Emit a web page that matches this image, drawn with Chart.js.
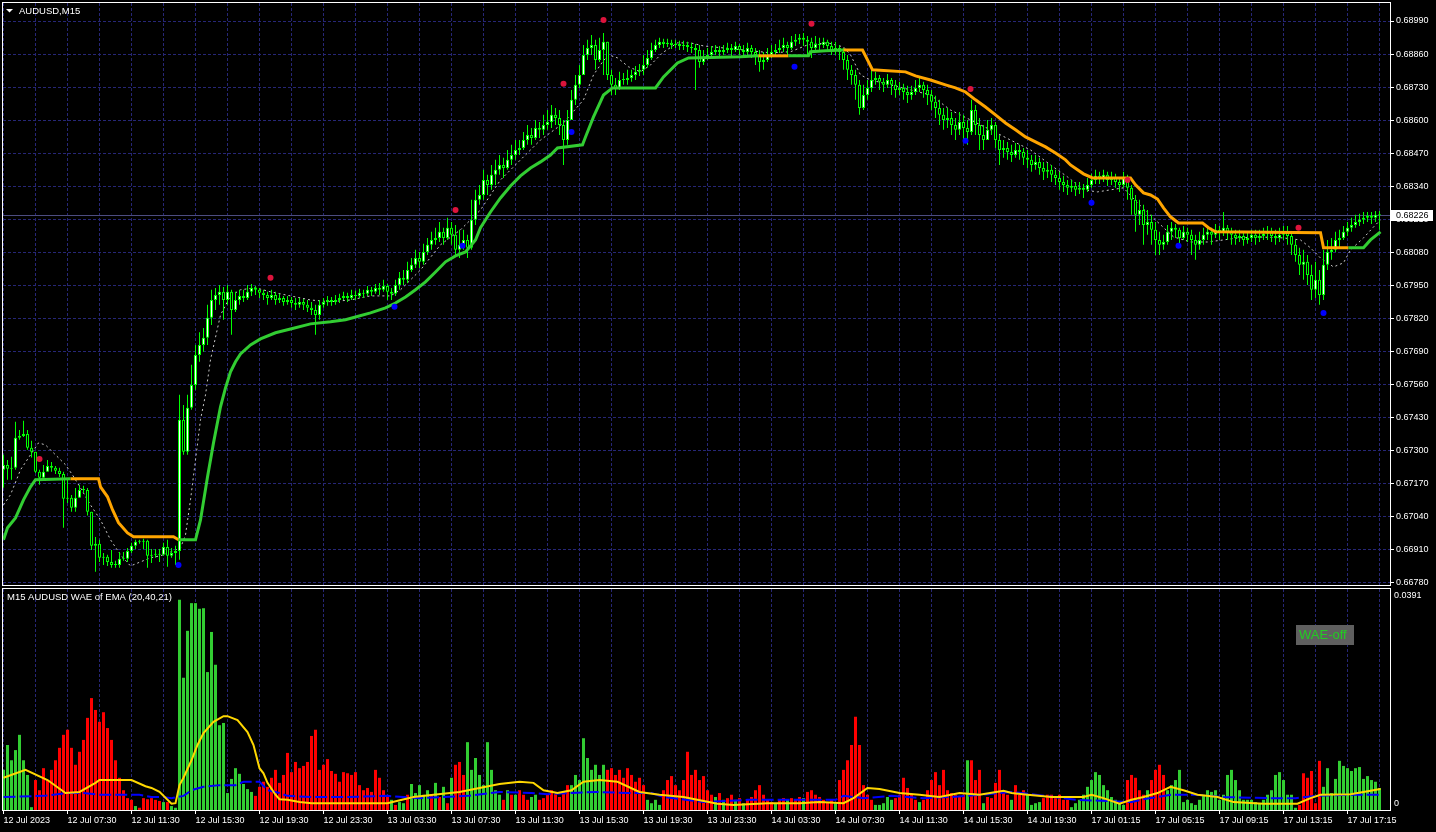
<!DOCTYPE html>
<html lang="en">
<head>
<meta charset="UTF-8">
<title>AUDUSD,M15</title>
<script src="https://cdn.jsdelivr.net/npm/chart.js@4"></script>
<style>
  body { margin: 0; background: #000; overflow: hidden; }
  #top { position: absolute; left: 0; top: 0; }
  #bot { position: absolute; left: 0; top: 588px; }
</style>
</head>
<body>
<canvas id="top" width="1436" height="588"></canvas>
<canvas id="bot" width="1436" height="244"></canvas>
<script>
// ---- price data, in points (1 point = 0.00001) ----
const firstOpen = 67225;
const closes = [
67244,67229,67233,67351,67358,67366,67312,67296,67217,67194,
67217,67240,67233,67221,67209,67111,67115,67076,67115,67146,
67146,67060,66926,66934,66879,66883,66863,66851,66851,66875,
66875,66906,66926,66942,66942,66946,66887,66891,66891,66891,
66922,66887,66898,66906,67422,67296,67469,67559,67677,67716,
67744,67823,67893,67913,67925,67893,67925,67854,67893,67909,
67901,67925,67940,67933,67921,67913,67901,67913,67893,67901,
67885,67893,67881,67874,67885,67874,67862,67854,67834,67874,
67885,67893,67885,67893,67901,67909,67901,67913,67909,67921,
67917,67933,67925,67940,67933,67948,67925,67917,67952,67980,
67972,68011,68031,68058,68043,68082,68110,68129,68137,68161,
68137,68177,68149,68090,68110,68129,68098,68208,68287,68306,
68365,68345,68385,68405,68424,68412,68444,68463,68483,68491,
68522,68542,68530,68569,68562,68581,68593,68621,68609,68581,
68522,68601,68680,68739,68778,68856,68884,68896,68837,68876,
68908,68778,68739,68727,68758,68758,68766,68778,68790,68798,
68817,68845,68876,68896,68908,68900,68904,68896,68900,68892,
68896,68888,68884,68876,68829,68845,68856,68868,68876,68868,
68876,68884,68876,68892,68876,68868,68884,68868,68856,68829,
68837,68856,68868,68876,68884,68896,68884,68908,68916,68924,
68916,68908,68884,68900,68896,68908,68892,68876,68884,68868,
68837,68798,68778,68739,68648,68699,68727,68758,68766,68751,
68739,68758,68739,68719,68727,68711,68699,68711,68727,68739,
68719,68699,68672,68648,68621,68601,68609,68581,68562,68593,
68569,68554,68640,68581,68542,68522,68562,68581,68522,68483,
68491,68475,68463,68483,68475,68452,68444,68424,68436,68412,
68397,68405,68385,68373,68357,68345,68334,68341,68326,68334,
68326,68345,68365,68381,68373,68385,68365,68373,68357,68345,
68373,68334,68287,68228,68247,68188,68200,68169,68129,68110,
68121,68161,68177,68169,68137,68161,68149,68129,68110,68129,
68149,68161,68149,68169,68161,68177,68161,68149,68137,68145,
68129,68137,68149,68137,68145,68153,68161,68145,68137,68149,
68161,68145,68110,68070,68031,68043,67991,67933,67972,67913,
68031,68082,68090,68129,68137,68161,68177,68188,68200,68208,
68216,68224,68216,68228,68226];
const highs = [
67284,67264,67276,67414,67382,67418,67382,67339,67284,67225,
67244,67264,67256,67240,67233,67217,67186,67126,67154,67166,
67162,67154,67060,66961,66950,66898,66891,66910,66867,66902,
66902,66918,66938,66950,66950,66954,66950,66914,66914,66914,
66938,66950,66918,66926,67520,67480,67520,67638,67716,67766,
67783,67874,67933,67940,67952,67944,67952,67933,67925,67933,
67933,67952,67956,67948,67940,67933,67925,67933,67925,67917,
67909,67909,67905,67901,67901,67897,67893,67885,67874,67893,
67901,67909,67905,67913,67917,67925,67921,67933,67929,67937,
67933,67948,67944,67956,67960,67972,67956,67940,67972,68003,
68011,68043,68058,68090,68082,68114,68137,68161,68177,68200,
68177,68216,68200,68188,68169,68169,68149,68287,68326,68345,
68405,68385,68424,68444,68463,68452,68483,68503,68522,68522,
68554,68581,68569,68601,68593,68621,68640,68660,68648,68640,
68601,68640,68719,68778,68817,68896,68916,68935,68916,68924,
68943,68896,68798,68766,68790,68786,68798,68798,68813,68821,
68856,68876,68904,68916,68924,68920,68920,68916,68916,68912,
68912,68908,68904,68900,68896,68876,68884,68892,68896,68892,
68896,68904,68900,68908,68900,68896,68904,68896,68884,68876,
68868,68884,68896,68900,68916,68924,68908,68931,68939,68939,
68943,68931,68924,68931,68924,68924,68916,68908,68908,68896,
68884,68856,68817,68798,68758,68739,68758,68798,68790,68778,
68766,68782,68766,68758,68751,68743,68735,68735,68758,68766,
68751,68739,68719,68696,68680,68648,68648,68632,68609,68632,
68621,68601,68680,68660,68609,68581,68601,68609,68593,68542,
68522,68514,68503,68510,68503,68491,68483,68463,68463,68452,
68436,68432,68424,68405,68397,68381,68365,68365,68357,68357,
68349,68373,68389,68405,68397,68405,68397,68397,68389,68373,
68397,68385,68345,68306,68287,68267,68247,68228,68200,68161,
68149,68188,68200,68192,68177,68184,68177,68169,68149,68161,
68177,68184,68177,68192,68184,68239,68188,68177,68169,68169,
68161,68161,68169,68169,68169,68177,68184,68177,68169,68177,
68184,68184,68161,68129,68098,68090,68070,68031,68043,68011,
68090,68129,68137,68161,68169,68184,68200,68216,68228,68232,
68239,68239,68239,68243,68243];
const lows = [
67155,67186,67186,67225,67343,67354,67304,67273,67213,67166,
67182,67217,67217,67209,67197,66997,67095,67060,67060,67115,
67134,67045,66910,66824,66863,66851,66847,66840,66840,66840,
66867,66863,66898,66914,66934,66914,66840,66859,66879,66863,
66887,66844,66879,66851,66871,67284,67284,67461,67540,67650,
67689,67716,67795,67854,67874,67815,67874,67756,67846,67874,
67885,67893,67909,67913,67901,67893,67874,67893,67874,67881,
67870,67874,67862,67854,67862,67854,67846,67834,67756,67815,
67862,67870,67870,67874,67881,67893,67885,67893,67893,67901,
67901,67909,67909,67917,67913,67925,67893,67893,67909,67933,
67952,67960,68003,68019,68019,68031,68070,68090,68110,68121,
68110,68129,68110,68070,68058,68090,68058,68090,68188,68267,
68287,68306,68326,68345,68385,68373,68405,68424,68444,68463,
68483,68503,68503,68522,68530,68542,68562,68569,68581,68542,
68424,68503,68601,68660,68727,68778,68837,68856,68798,68829,
68778,68758,68699,68699,68719,68739,68739,68751,68758,68774,
68778,68806,68837,68868,68884,68884,68888,68880,68884,68876,
68876,68868,68864,68719,68806,68817,68837,68845,68856,68852,
68856,68864,68852,68868,68856,68845,68856,68845,68817,68790,
68798,68829,68845,68856,68864,68868,68856,68876,68892,68900,
68892,68856,68845,68868,68876,68884,68868,68856,68856,68837,
68798,68758,68739,68680,68621,68640,68680,68711,68739,68719,
68711,68727,68699,68688,68699,68680,68668,68680,68699,68711,
68688,68660,68640,68609,68581,68562,68569,68542,68522,68542,
68522,68503,68542,68542,68483,68483,68522,68542,68491,68424,
68452,68444,68436,68452,68444,68424,68412,68397,68405,68385,
68365,68373,68357,68345,68326,68318,68306,68318,68302,68310,
68294,68318,68334,68349,68349,68357,68341,68345,68334,68318,
68334,68287,68228,68161,68188,68110,68149,68110,68070,68070,
68090,68110,68129,68137,68110,68129,68121,68070,68051,68090,
68110,68129,68110,68137,68129,68145,68129,68110,68110,68121,
68106,68114,68121,68110,68121,68129,68129,68121,68110,68121,
68129,68110,68070,68043,67991,67972,67952,67893,67901,67874,
67893,68011,68051,68082,68098,68129,68145,68161,68177,68184,
68192,68200,68192,68200,68169];

// trailing stop line: vertices (bar, points) and trend of the segment ending there
const trailX = [0,1,3,5,6.75,8,16.75,23.75,24.25,26,27.25,28.75,31,32.5,42.5,43.75,48,49.25,51,52.5,
54.25,55.5,56.75,58,59.25,61.75,64.25,68,71.75,76.75,81.75,85.5,88,91.75,95.5,98,100.5,103,105.5,108,
110.5,113,115.5,118,119.25,121.75,124.25,126.75,129.25,131.75,134.25,136.75,138.5,144.75,145.5,147.5,150,152.25,163,165,
168.5,171.25,184.25,188.75,196.25,201.25,201.75,205.5,210,214.75,216.25,217.25,225.5,228,231.75,235.5,238,240.5,243,245.5,
248,250.5,253,255.5,258,260.5,263,265.5,266.75,268.5,270,272.25,281.75,283,285,286.75,288.5,290,291.75,293.75,
299.75,301.25,303,329.25,330,336.25,340,341.75,344.25];
const trailY = [66950,66997,67036,67107,67158,67186,67190,67190,67158,67119,67068,67017,66977,66962,66962,66950,66950,67028,67197,67331,
67473,67547,67610,67650,67681,67716,67740,67764,67779,67799,67807,67815,67826,67842,67862,67881,67905,67933,67964,68003,
68043,68066,68082,68129,68177,68239,68294,68341,68381,68412,68436,68463,68491,68503,68534,68613,68699,68727,68727,68770,
68825,68845,68849,68853,68853,68853,68869,68873,68876,68876,68829,68798,68790,68774,68758,68739,68727,68711,68680,68652,
68621,68589,68562,68534,68515,68495,68471,68444,68424,68405,68389,68373,68373,68346,68314,68306,68290,68255,68220,68196,
68196,68177,68161,68157,68098,68098,68098,68129,68161];
const trailTrend = "uuuuuuuddd dddddduuuu uuuuuuuuuu uuuuuuuuuu uuuuuuuuuu uuuuuuuuuu uuuuduuuud dddddddddd dddddddddd dddddddddd dddddduuu".replace(/ /g, '');

// dotted moving average
const maX = [0,1.75,4.25,6.75,8.75,10.5,13,15.5,17.25,19.25,21.75,24.25,26.75,29.25,31.75,34.25,36.75,39.25,41.75,44.25,
45.5,46.75,48,49.25,50.5,51.75,54.25,56.75,59.25,63,66.75,71.75,76.75,81.75,86.75,91.75,96.75,99.25,104.25,109.25,
114.25,119.25,124.25,129.25,134.25,140,145,147.5,149.75,151.25,153.5,156.25,159.25,161.75,164.75,168.5,171.75,175,180,185,
191.75,196.75,201,206,210,211.75,214.25,216.75,221.75,226.75,231.75,236.75,241.75,246.75,251.75,256.75,261.75,266,270,273.5,
276.75,280,283.5,288.5,292.5,296.75,301,305,308.5,313.5,320,324.25,326.75,329.25,332.5,335,336.75,340,342.5,344.25];
const maY = [67087,67127,67225,67284,67331,67323,67284,67245,67205,67154,67087,67028,66950,66891,66847,66863,66879,66887,66902,66918,
66969,67107,67264,67422,67520,67658,67834,67909,67933,67941,67925,67909,67893,67886,67893,67909,67909,67933,68011,68110,
68169,68247,68365,68444,68522,68589,68680,68778,68829,68857,68845,68810,68790,68817,68865,68904,68904,68892,68884,68876,
68865,68869,68896,68904,68888,68857,68778,68758,68739,68719,68699,68640,68601,68562,68522,68483,68424,68377,68326,68318,
68326,68334,68275,68200,68141,68121,68121,68129,68137,68141,68137,68129,68098,68058,68023,68039,68090,68137,68180,68208];

// signal dots
const sellX = [9,66.75,113,140,150,202,241.75,281,323.75];
const sellY = [67268,67980,68247,68743,68994,68979,68723,68365,68177];
const buyX = [43.75,97.75,114.75,142,197.75,240.5,272,293.75,330];
const buyY = [66851,67866,68106,68554,68810,68519,68275,68106,67842];

const priceTicks = [0.6678,0.6691,0.6704,0.6717,0.6730,0.6743,0.6756,0.6769,0.6782,0.6795,0.6808,0.6821,0.6834,0.6847,0.6860,0.6873,0.6886,0.6899];
const timeLabels = ['12 Jul 2023','12 Jul 07:30','12 Jul 11:30','12 Jul 15:30','12 Jul 19:30','12 Jul 23:30',
'13 Jul 03:30','13 Jul 07:30','13 Jul 11:30','13 Jul 15:30','13 Jul 19:30','13 Jul 23:30',
'14 Jul 03:30','14 Jul 07:30','14 Jul 11:30','14 Jul 15:30','14 Jul 19:30',
'17 Jul 01:15','17 Jul 05:15','17 Jul 09:15','17 Jul 13:15','17 Jul 17:15'];

// ---- WAE sub window ----
const WAE_MAX = 0.0391;
const waeValue = [
.0071,.0115,.0088,.0106,.0133,.0088,.0062,.0005,.0053,.0035,
.0074,.0053,.0071,.0088,.0110,.0133,.0142,.0110,.0080,.0103,
.0124,.0163,.0198,.0177,.0156,.0173,.0145,.0124,.0088,.0057,
.0035,.0021,.0018,.0007,.0004,.0021,.0019,.0021,.0018,.0016,
.0014,.0014,.0007,.0004,.0372,.0234,.0317,.0366,.0366,.0356,
.0357,.0244,.0315,.0257,.0150,.0154,.0030,.0055,.0074,.0064,
.0046,.0037,.0032,.0025,.0041,.0050,.0041,.0057,.0071,.0048,
.0062,.0101,.0067,.0085,.0074,.0078,.0085,.0131,.0142,.0071,
.0080,.0090,.0069,.0064,.0050,.0067,.0065,.0062,.0067,.0044,
.0035,.0039,.0032,.0071,.0057,.0035,.0023,.0018,.0009,.0014,
.0012,.0027,.0046,.0030,.0044,.0027,.0035,.0027,.0048,.0023,
.0041,.0012,.0057,.0080,.0085,.0062,.0120,.0071,.0092,.0062,
.0044,.0120,.0071,.0035,.0027,.0018,.0035,.0027,.0027,.0035,
.0027,.0018,.0023,.0027,.0018,.0021,.0027,.0035,.0028,.0023,
.0032,.0044,.0044,.0062,.0053,.0127,.0092,.0071,.0080,.0062,
.0080,.0071,.0074,.0062,.0071,.0057,.0074,.0062,.0050,.0057,
.0044,.0018,.0012,.0018,.0009,.0035,.0053,.0060,.0044,.0035,
.0053,.0103,.0062,.0071,.0053,.0060,.0035,.0027,.0023,.0030,
.0018,.0021,.0027,.0018,.0021,.0012,.0018,.0023,.0035,.0044,
.0027,.0018,.0014,.0012,.0018,.0021,.0018,.0021,.0018,.0023,
.0021,.0032,.0035,.0027,.0023,.0018,.0014,.0018,.0012,.0053,
.0071,.0088,.0115,.0165,.0115,.0044,.0027,.0018,.0009,.0009,
.0012,.0023,.0018,.0021,.0027,.0057,.0039,.0027,.0018,.0014,
.0018,.0035,.0053,.0067,.0044,.0071,.0035,.0030,.0027,.0023,
.0027,.0088,.0088,.0053,.0071,.0012,.0023,.0021,.0048,.0071,
.0032,.0027,.0018,.0044,.0027,.0035,.0027,.0009,.0012,.0014,
.0021,.0027,.0027,.0021,.0027,.0018,.0018,.0005,.0012,.0018,
.0027,.0041,.0053,.0067,.0062,.0044,.0035,.0023,.0018,.0012,
.0009,.0053,.0062,.0057,.0035,.0027,.0035,.0053,.0071,.0080,
.0062,.0035,.0044,.0053,.0071,.0014,.0018,.0012,.0009,.0018,
.0027,.0035,.0032,.0035,.0018,.0027,.0062,.0071,.0053,.0035,
.0018,.0018,.0018,.0014,.0012,.0018,.0027,.0035,.0062,.0067,
.0053,.0027,.0027,.0004,.0009,.0065,.0057,.0069,.0012,.0087,
.0041,.0074,.0030,.0055,.0087,.0078,.0074,.0069,.0074,.0076,
.0055,.0060,.0053,.0050,.0039];
const waeTrend = ("uuuuuuuudd dddddddddd dddddddddd dddudddddd uduuuuuuuu uuuuuuuuuu uuuddddddd dddddddddd dddddddddd dddddddudu " +
  "uduuuuudud ududdduuuu uuuuududud dduudddddd dduuuuuuuu uddddddddd duuuuddddd ddddddddud uddududddd dddudduddd " +
  "udddddddud dddddddduu uuuddddddu dddddddddd dudddudddd dduddduuuu ddddddduuu uuuuuuuuuu uddddduddd duuuuuuuuu " +
  "uuuuuuuuuu uuuuuuuuuu uuuudddddd uuuuuuuuuu uuuuu").replace(/ /g, '');
// explosion line (yellow) and dead zone (blue)
const expX = [0,5.5,11,15.5,19,23,24,32,35.5,37,39,42,43,44,45,47,48.5,50,52.5,55,56,58.5,61,62.5,64,65,66,68,69,71,74,77,87,96,
102.5,107.5,114,119,124,129,132.5,135,138.5,142,145,149,153.5,159,164,170,178.5,182.5,191,199,204,210,212.5,216,219,224,229,234,239,244,
250,252,256,262,270,272,275,279,282,285,288.5,291.75,295,298.5,303.5,307.5,315,323.5,326.75,329.25,336.75,344.25];
const expY = [.0057,.0071,.0053,.0030,.0032,.0048,.0053,.0053,.0042,.0039,.0032,.0011,.0012,.0044,.0057,.0088,.0115,.0136,.0156,.0166,.0166,.0159,.0138,.0115,.0074,.0065,.0048,.0027,.0019,.0018,.0014,.0012,.0012,.0012,
.0023,.0027,.0032,.0039,.0046,.0050,.0048,.0035,.0030,.0035,.0050,.0053,.0050,.0032,.0027,.0023,.0011,.0009,.0012,.0012,.0014,.0012,.0021,.0039,.0037,.0030,.0027,.0023,.0030,.0027,
.0034,.0030,.0027,.0023,.0023,.0027,.0021,.0011,.0018,.0023,.0030,.0041,.0035,.0027,.0023,.0014,.0011,.0011,.0021,.0027,.0028,.0037];
const deadX = [0,10,16,20,24,34,37,40,42,45,47,50,54,58,60,64,66,69,71,77,86,96,104,116,124,132,136,142,148,156,162,165,175,186,198,208,210,215,222,230,
237,246,252,258,268,276,282,285,292,298,305,316,323,328,336,344];
const deadY = [.0023,.0025,.0030,.0030,.0027,.0027,.0023,.0023,.0021,.0025,.0035,.0041,.0044,.0044,.0050,.0050,.0035,.0030,.0025,.0023,.0023,.0025,.0021,.0025,.0032,.0030,.0028,.0030,.0032,.0030,.0030,.0023,.0014,.0018,.0018,.0018,.0025,.0021,.0025,.0021,
.0023,.0028,.0032,.0027,.0018,.0016,.0014,.0019,.0027,.0027,.0023,.0021,.0021,.0025,.0027,.0027];

// ---- drawing ----
const FONT = '"Liberation Sans", Arial, sans-serif';
const GRID = '#262676';
const X_MIN = -0.125, X_MAX = 346.625;   // 4 px per bar
const pt = v => v / 1e5;

const opens = closes.map((c, i) => i ? closes[i - 1] : firstOpen);
const bodyData = closes.map((c, i) => ({ x: i, y: [pt(opens[i]), pt(c)] }));
const wickData = closes.map((c, i) => ({ x: i, y: [pt(Math.min(lows[i], opens[i], c)), pt(Math.max(highs[i], opens[i], c))] }));
const lastPrice = pt(closes[closes.length - 1]);

function gridTicks() {
  const t = [];
  for (let b = 0; b <= 344; b += 8) t.push({ value: b });
  return t;
}
const fixY = w => s => { s.width = w; s.paddingTop = 0; s.paddingBottom = 0; };
const fixX = h => s => { s.height = h; s.paddingLeft = 0; s.paddingRight = 0; };

const topDecor = {
  id: 'topDecor',
  beforeDatasetsDraw(chart) {
    const { ctx, chartArea: a, scales: { y } } = chart;
    const py = Math.round(y.getPixelForValue(lastPrice)) + 0.5;
    ctx.save();
    ctx.strokeStyle = '#4d4d80';
    ctx.lineWidth = 1;
    ctx.beginPath(); ctx.moveTo(a.left, py); ctx.lineTo(a.right, py); ctx.stroke();
    ctx.restore();
  },
  afterDraw(chart) {
    const { ctx, chartArea: a, scales: { y } } = chart;
    ctx.save();
    ctx.strokeStyle = '#fff';
    ctx.lineWidth = 1;
    ctx.strokeRect(a.left - 0.5, a.top - 0.5, a.right - a.left + 1, a.bottom - a.top + 1);
    const py = Math.round(y.getPixelForValue(lastPrice));
    ctx.fillStyle = '#fff';
    ctx.fillRect(a.right + 1, py - 5, 42, 11);
    ctx.fillStyle = '#000';
    ctx.font = '9px ' + FONT;
    ctx.textBaseline = 'middle';
    ctx.textAlign = 'left';
    ctx.fillText(lastPrice.toFixed(5), a.right + 6, py + 0.5);
    ctx.fillStyle = '#fff';
    ctx.beginPath(); ctx.moveTo(6, 9); ctx.lineTo(13, 9); ctx.lineTo(9.5, 12.5); ctx.closePath(); ctx.fill();
    ctx.font = '9.5px ' + FONT;
    ctx.fillText('AUDUSD,M15', 19, 11);
    ctx.restore();
  }
};

const botDecor = {
  id: 'botDecor',
  afterDraw(chart) {
    const { ctx, chartArea: a } = chart;
    ctx.save();
    ctx.strokeStyle = '#fff';
    ctx.lineWidth = 1;
    ctx.strokeRect(a.left - 0.5, a.top - 0.5, a.right - a.left + 1, a.bottom - a.top + 1);
    ctx.fillStyle = '#fff';
    ctx.font = '9.5px ' + FONT;
    ctx.textBaseline = 'middle';
    ctx.fillText('M15 AUDUSD WAE of EMA (20,40,21)', 7, 9);
    ctx.fillStyle = '#5f5f5f';
    ctx.fillRect(1296, 37, 58, 20);
    ctx.fillStyle = '#22cc22';
    ctx.font = '13px ' + FONT;
    ctx.fillText('WAE-off', 1299, 47.5);
    ctx.restore();
  }
};

new Chart(document.getElementById('top'), {
  type: 'bar',
  data: {
    datasets: [
      { type: 'line', data: maX.map((x, i) => ({ x, y: pt(maY[i]) })), borderColor: '#c8c8c8', borderWidth: 1,
        borderDash: [2, 3], pointRadius: 0, order: 5 },
      { data: wickData, backgroundColor: '#00ff00', barThickness: 1, grouped: false, minBarLength: 1,
        inflateAmount: 0, order: 4 },
      { data: bodyData, borderColor: '#00ff00', borderWidth: 1, borderSkipped: false, barThickness: 3,
        grouped: false, minBarLength: 1, inflateAmount: 0, order: 3,
        backgroundColor: c => c.dataIndex === undefined ? '#000' : (closes[c.dataIndex] >= opens[c.dataIndex] ? '#ffffff' : '#000000') },
      { type: 'line', data: trailX.map((x, i) => ({ x, y: pt(trailY[i]) })), borderColor: '#32cd32', borderWidth: 3,
        pointRadius: 0, order: 2,
        segment: { borderColor: c => trailTrend[c.p1DataIndex] === 'd' ? '#ffa500' : '#32cd32' } },
      { type: 'scatter', data: sellX.map((x, i) => ({ x, y: pt(sellY[i]) })), pointRadius: 3,
        backgroundColor: '#dc143c', borderWidth: 0, order: 1 },
      { type: 'scatter', data: buyX.map((x, i) => ({ x, y: pt(buyY[i]) })), pointRadius: 3,
        backgroundColor: '#0000ff', borderWidth: 0, order: 1 }
    ]
  },
  options: {
    responsive: false, animation: false, events: [],
    layout: { autoPadding: false, padding: { left: 3, top: 3, right: 0, bottom: 0 } },
    plugins: { legend: { display: false }, tooltip: { enabled: false } },
    scales: {
      x: {
        type: 'linear', min: X_MIN, max: X_MAX, offset: false,
        afterBuildTicks: s => { s.ticks = gridTicks(); },
        ticks: { display: false },
        grid: { color: GRID, drawTicks: false, offset: false },
        border: { display: false, dash: [3, 2] },
        afterFit: fixX(3)
      },
      y: {
        position: 'right', min: 0.667721, max: 0.690608,
        afterBuildTicks: s => { s.ticks = priceTicks.map(value => ({ value })); },
        ticks: { color: '#fff', font: { family: FONT, size: 9 }, padding: 2, callback: v => v.toFixed(5) },
        grid: { color: GRID, tickColor: '#fff', tickLength: 4 },
        border: { display: false, dash: [3, 2] },
        afterFit: fixY(46)
      }
    }
  },
  plugins: [topDecor]
});

new Chart(document.getElementById('bot'), {
  type: 'bar',
  data: {
    datasets: [
      { type: 'line', data: expX.map((x, i) => ({ x, y: expY[i] })), borderColor: '#ffd700', borderWidth: 2,
        pointRadius: 0, order: 0 },
      { type: 'line', data: deadX.map((x, i) => ({ x, y: deadY[i] })), borderColor: '#0000ff', borderWidth: 2,
        borderDash: [12, 4], pointRadius: 0, order: 1 },
      { data: waeValue.map((v, i) => waeTrend[i] === 'u' ? { x: i, y: v } : null).filter(Boolean),
        backgroundColor: '#32cd32', barThickness: 3, grouped: false, inflateAmount: 0, order: 3 },
      { data: waeValue.map((v, i) => waeTrend[i] === 'd' ? { x: i, y: v } : null).filter(Boolean),
        backgroundColor: '#ff0000', barThickness: 3, grouped: false, inflateAmount: 0, order: 3 }
    ]
  },
  options: {
    responsive: false, animation: false, events: [],
    layout: { autoPadding: false, padding: { left: 3, top: 1, right: 0, bottom: 0 } },
    plugins: { legend: { display: false }, tooltip: { enabled: false } },
    scales: {
      x: {
        type: 'linear', min: X_MIN, max: X_MAX, offset: false,
        afterBuildTicks: s => { s.ticks = gridTicks(); },
        ticks: { autoSkip: false, maxRotation: 0, align: 'start', color: '#fff', font: { family: FONT, size: 9 },
          padding: 1, callback: v => v % 16 === 0 ? timeLabels[v / 16] : '' },
        grid: { color: GRID, offset: false, tickColor: c => c.index % 2 === 0 ? '#fff' : 'rgba(0,0,0,0)', tickLength: 4 },
        border: { display: false, dash: [3, 2] },
        afterFit: fixX(22)
      },
      y: {
        position: 'right', min: 0, max: WAE_MAX,
        afterBuildTicks: s => { s.ticks = [{ value: 0.00106 }, { value: 0.03795 }]; },
        ticks: { color: '#fff', font: { family: FONT, size: 9 }, padding: 4,
          callback: v => v > WAE_MAX / 2 ? WAE_MAX.toFixed(4) : '0' },
        grid: { display: false, drawTicks: false },
        border: { display: false },
        afterFit: fixY(46)
      }
    }
  },
  plugins: [botDecor]
});
</script>
</body>
</html>
